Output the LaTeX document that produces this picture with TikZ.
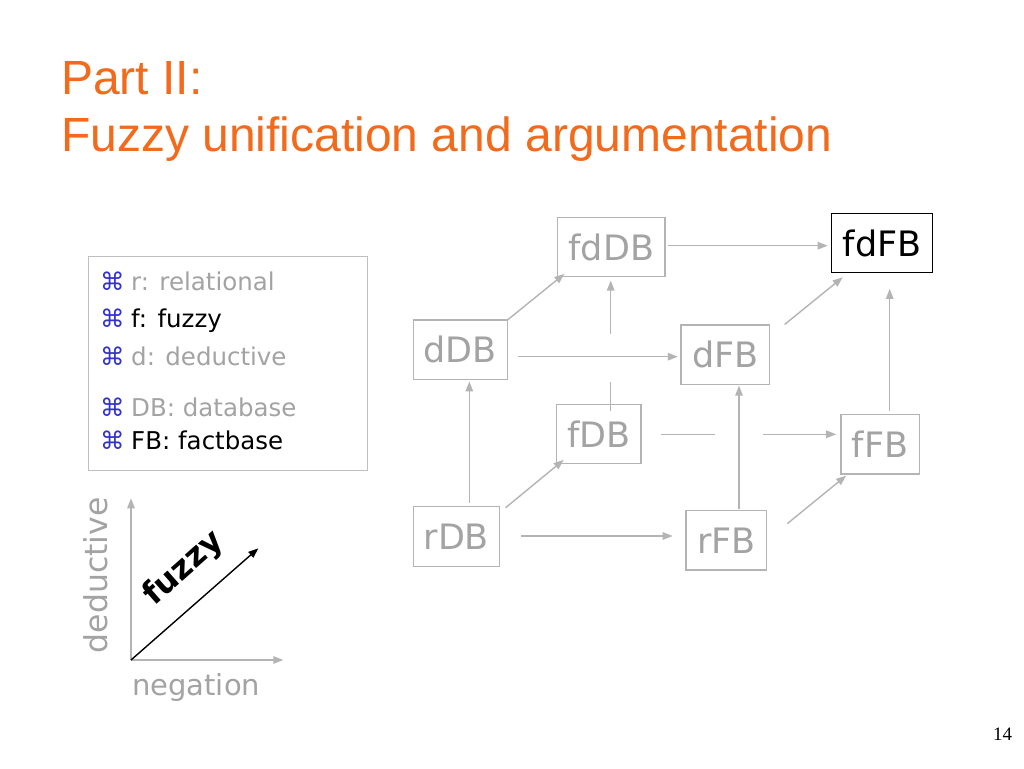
\documentclass[tikz,border=0pt]{standalone}
\usepackage{fontspec}
\setmainfont{DejaVu Sans}
\newfontfamily\titlefont{Liberation Sans}
\newfontfamily\numfont{Liberation Serif}
\usetikzlibrary{arrows.meta,calc}
\definecolor{orangeT}{RGB}{242,106,27}
\definecolor{textgray}{RGB}{163,163,163}
\definecolor{linegray}{RGB}{180,180,180}
\definecolor{bulletblue}{RGB}{51,51,204}
\tikzset{
  dbbox/.style={draw=linegray, line width=1.2pt, text=textgray, inner sep=0pt,
    font=\fontsize{35}{40}\selectfont},
  topbox/.style={draw=black, line width=1.2pt, text=black, inner sep=0pt,
    font=\fontsize{35}{40}\selectfont},
  conn/.style={draw=linegray, line width=1.4pt, -{Triangle[length=10pt,width=7.5pt]}},
  connplain/.style={draw=linegray, line width=1.4pt},
  legtext/.style={anchor=base west, inner sep=0pt, font=\fontsize{24.5}{28}\selectfont},
  legbullet/.style={anchor=base west, inner sep=0pt, text=bulletblue, font=\fontsize{24.5}{28}\selectfont},
  axis/.style={draw=linegray, line width=1.4pt, -{Triangle[length=10pt,width=7.5pt]}},
  fuzzyarrow/.style={draw=black, line width=1.4pt, -{Triangle[length=10pt,width=7.5pt]}},
  titletext/.style={anchor=base west, inner sep=0pt, text=orangeT, font=\titlefont\fontsize{48}{57}\selectfont}
}
\begin{document}
\begin{tikzpicture}[x=1pt,y=-1pt]
\useasboundingbox[fill=white] (0,0) rectangle (1024,768);

% Title
\node[titletext] (t1) at (61,94) {Part II:};
\node[titletext] (t2) at (61,151.7) {Fuzzy unification and argumentation};

% Legend
\draw[draw=linegray!85, line width=1pt] (88.3,256.7) rectangle (367.3,470);
\node[legbullet] (b1) at (100,290) {⌘};
\node[legtext, text=textgray] (l1) at (131,290) {r: relational};
\node[legbullet] (b2) at (100,327.3) {⌘};
\node[legtext, text=black] (l2) at (131,327.3) {f: fuzzy};
\node[legbullet] (b3) at (100,365) {⌘};
\node[legtext, text=textgray] (l3) at (131,365) {d: deductive};
\node[legbullet] (b4) at (100,416) {⌘};
\node[legtext, text=textgray] (l4) at (131,416) {DB: database};
\node[legbullet] (b5) at (100,449.3) {⌘};
\node[legtext, text=black] (l5) at (131,449.3) {FB: factbase};

% Boxes
\node[dbbox, minimum width=107.3pt, minimum height=59.4pt] (fdDB) at (611.3,247) {fdDB};
\node[topbox, minimum width=101pt, minimum height=59.4pt] (fdFB) at (882.2,243) {fdFB};
\node[dbbox, minimum width=94pt, minimum height=59.3pt] (dDB) at (460.3,349.7) {dDB};
\node[dbbox, minimum width=88.3pt, minimum height=59.3pt] (dFB) at (725.2,354.7) {dFB};
\node[dbbox, minimum width=84.3pt, minimum height=59pt] (fDB) at (598.8,433.8) {fDB};
\node[dbbox, minimum width=78.3pt, minimum height=59.7pt] (fFB) at (880.2,444.2) {fFB};
\node[dbbox, minimum width=86pt, minimum height=60pt] (rDB) at (456.3,536.7) {rDB};
\node[dbbox, minimum width=80.7pt, minimum height=59.3pt] (rFB) at (726.3,540.3) {rFB};

% Connectors
\draw[conn] ($(fdDB.east)+(2,-1.3)$) -- ($(fdFB.west)+(-3.4,2.7)$);
\draw[conn] ($(dDB.north east)+(-1,1)$) -- ($(fdDB.south west)+(7.3,-3.4)$);
\draw[connplain] ($(fDB.north)+(11.9,7.4)$) -- ($(fDB.north)+(11.9,-21.6)$);
\draw[conn] ($(fdDB.south)+(-0.6,56.6)$) -- ($(fdDB.south)+(-0.6,3.3)$);
\draw[conn] ($(dDB.east)+(10,7)$) -- ($(dFB.west)+(-2.7,2)$);
\draw[conn] ($(rDB.north)+(13,-3.4)$) -- ($(dDB.south)+(9,1.5)$);
\draw[conn] ($(rDB.north east)+(5.7,1.6)$) -- ($(fDB.south west)+(7.6,-4)$);
\draw[conn] ($(rDB.east)+(21.4,-0.7)$) -- ($(rFB.west)+(-12.7,-4.3)$);
\draw[connplain] ($(fDB.east)+(19.7,0.5)$) -- ($(fDB.east)+(73.3,0.5)$);
\draw[conn] ($(fFB.west)+(-77,-9.9)$) -- ($(fFB.west)+(-4.3,-9.9)$);
\draw[conn] ($(rFB.north)+(12.7,-0.7)$) -- ($(dFB.south)+(13.8,0.7)$);
\draw[conn] ($(dFB.north east)+(14.7,0)$) -- ($(fdFB.south west)+(11.6,4)$);
\draw[conn] ($(fFB.north)+(9.5,-2.6)$) -- ($(fdFB.south)+(7.5,15.5)$);
\draw[conn] ($(rFB.north east)+(20,13.6)$) -- ($(fFB.south west)+(5.7,1)$);

% Axes
\coordinate (O) at (131,660);
\coordinate (Ytip) at (131,498.3);
\coordinate (Xtip) at (283.3,660);
\coordinate (Ftip) at (258.3,548.3);
\draw[axis] (O) -- (Ytip);
\draw[axis] (O) -- (Xtip);
\draw[fuzzyarrow] (O) -- (Ftip);
\node[anchor=base, inner sep=0pt, rotate=41.5, font=\bfseries\fontsize{32}{36}\selectfont] (fz) at (190,575) {fuzzy};
\node[anchor=base west, inner sep=0pt, rotate=90, text=textgray, font=\fontsize{31.5}{36}\selectfont] (ded) at (107.3,653.5) {deductive};
\node[anchor=base west, inner sep=0pt, text=textgray, font=\fontsize{29}{34}\selectfont] (neg) at (132,695) {negation};

% Page number
\node[anchor=base west, inner sep=0pt, font=\numfont\fontsize{19}{22}\selectfont] (pg) at (993,740.7) {14};
\end{tikzpicture}
\end{document}
